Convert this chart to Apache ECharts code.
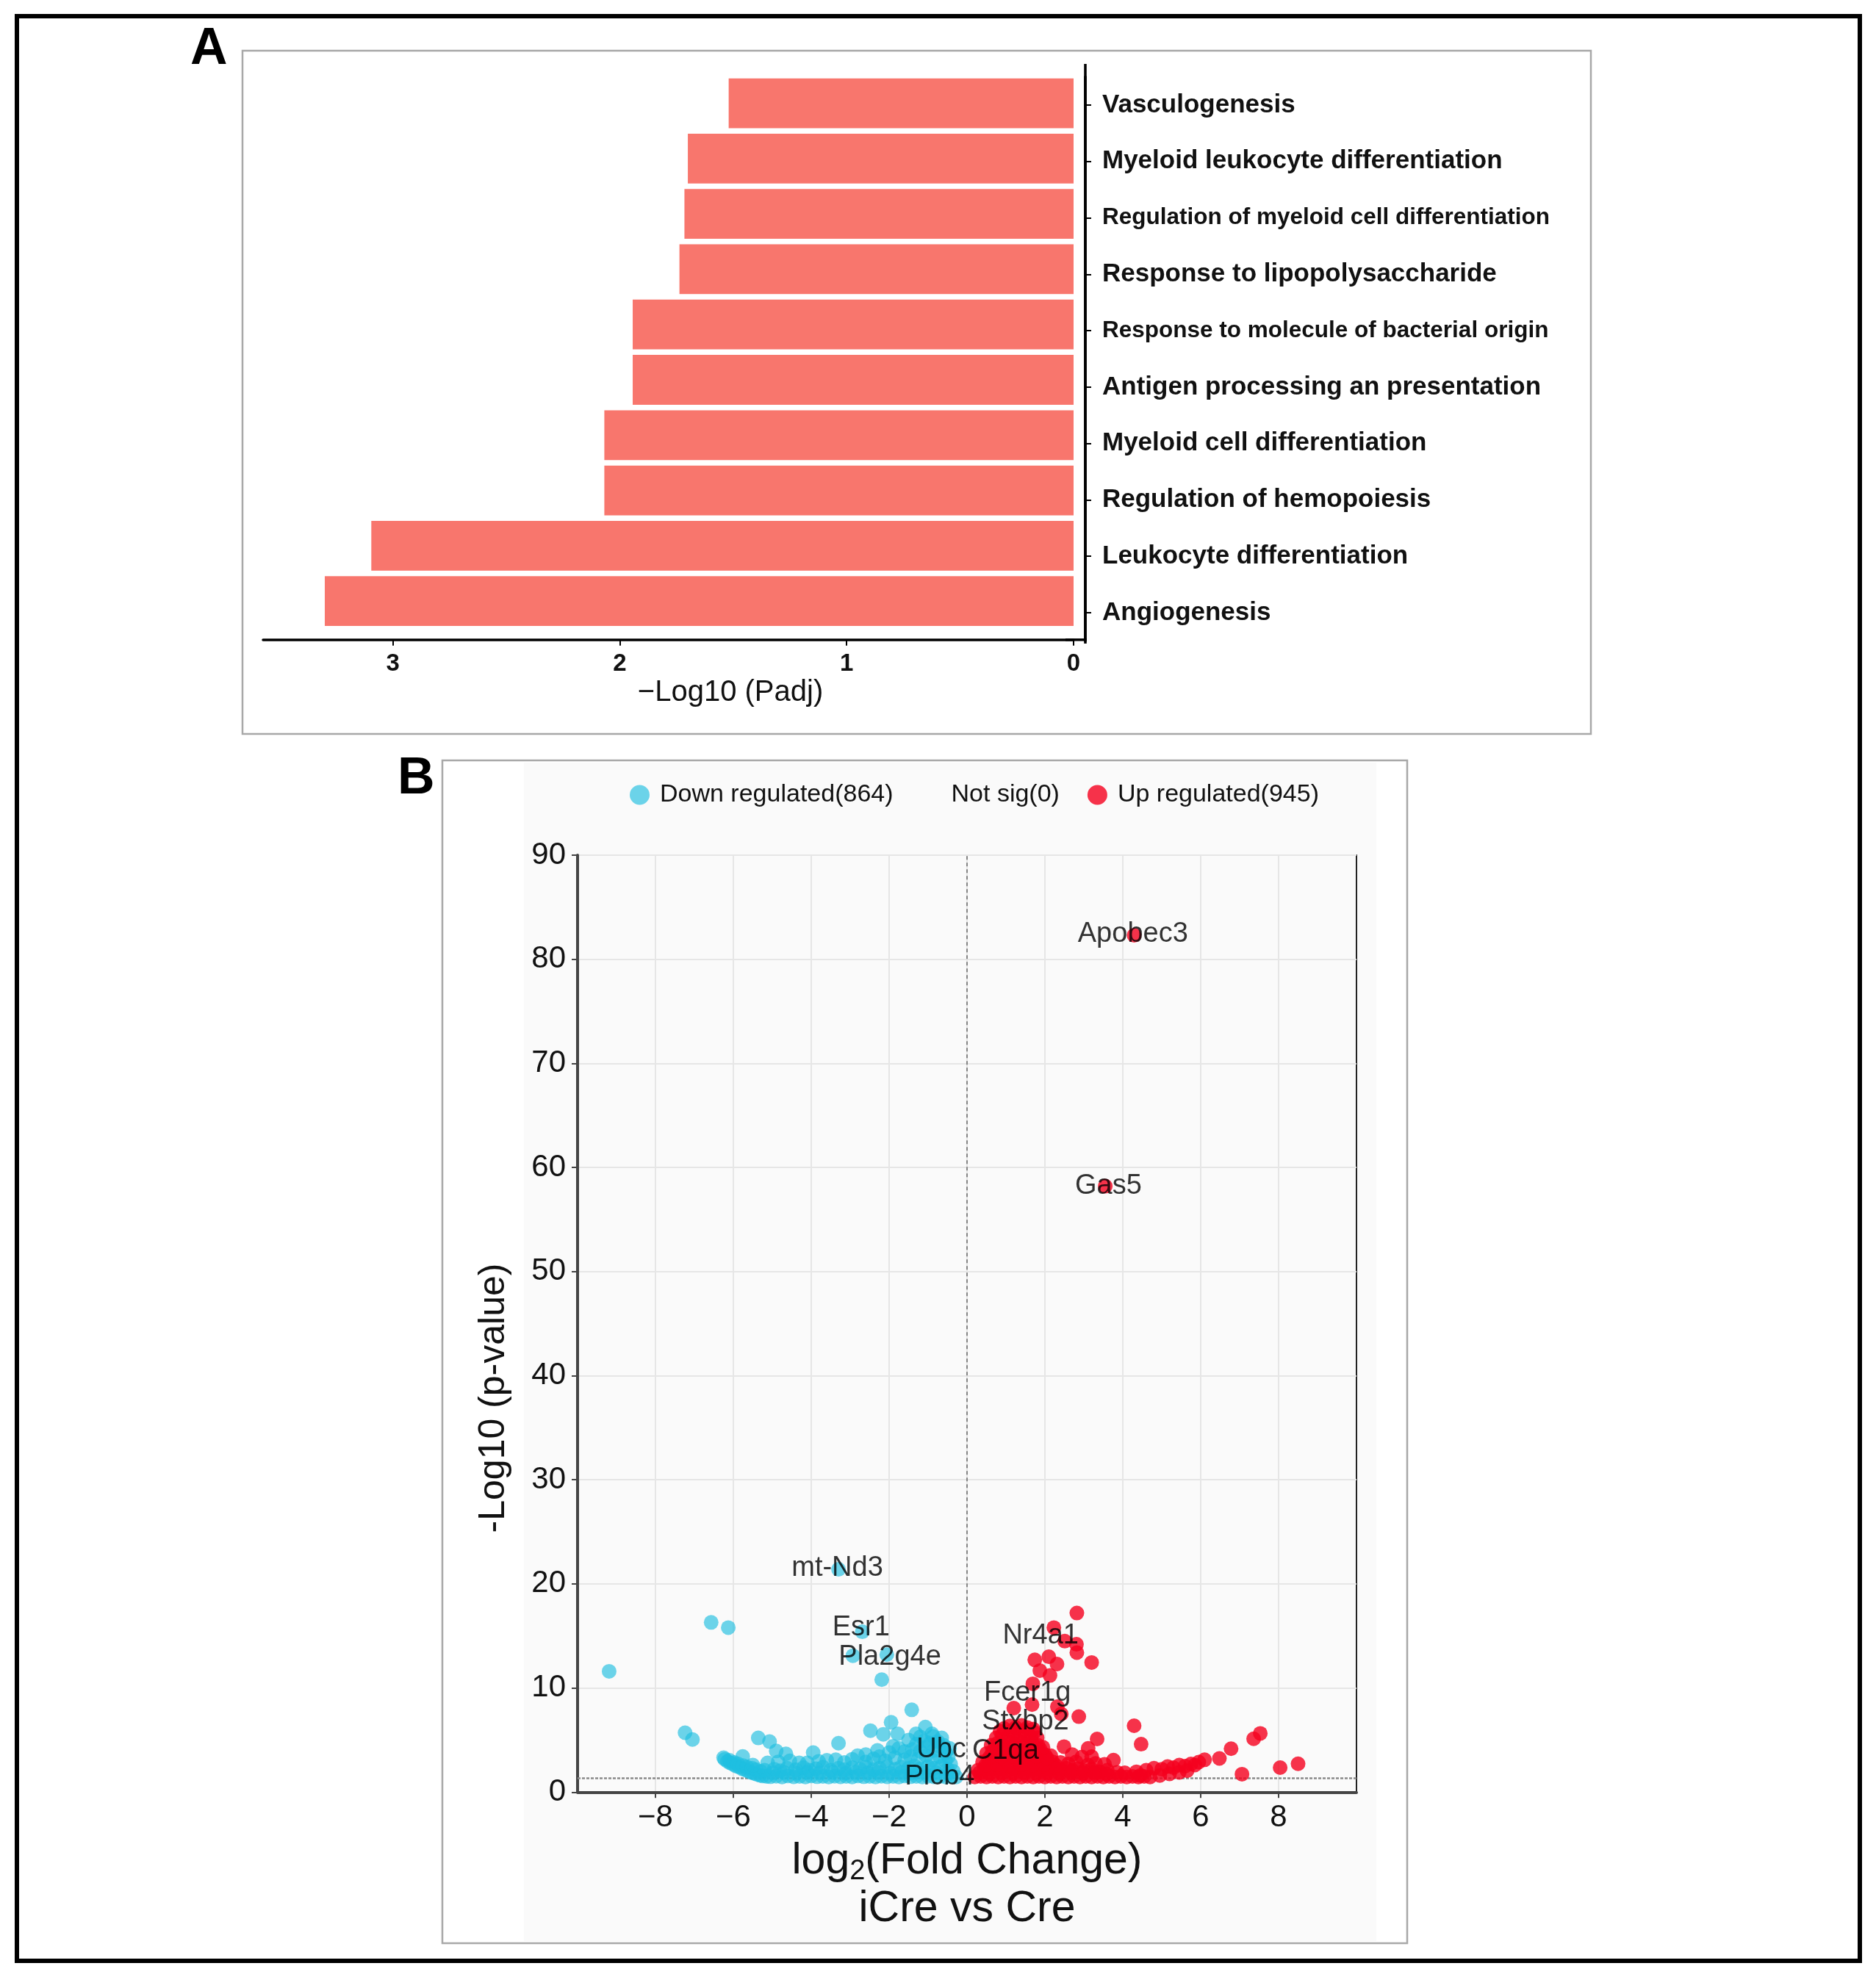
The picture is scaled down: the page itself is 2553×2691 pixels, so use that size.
<!DOCTYPE html>
<html>
<head>
<meta charset="utf-8">
<script src="https://cdn.jsdelivr.net/npm/echarts@6/dist/echarts.min.js"></script>
<style>
html,body{margin:0;padding:0;background:#fff;}
#chart{width:2553px;height:2691px;}
</style>
</head>
<body>
<div id="chart"></div>
<script>
// ---------- Panel A data ----------
const termNames = [
  'Vasculogenesis',
  'Myeloid leukocyte differentiation',
  'Regulation of myeloid cell differentiation',
  'Response to lipopolysaccharide',
  'Response to molecule of bacterial origin',
  'Antigen processing an presentation',
  'Myeloid cell differentiation',
  'Regulation of hemopoiesis',
  'Leukocyte differentiation',
  'Angiogenesis'
];
const termValues = [1.52, 1.70, 1.715, 1.737, 1.943, 1.943, 2.068, 2.068, 3.095, 3.30];
const smallTerms = ['Regulation of myeloid cell differentiation', 'Response to molecule of bacterial origin'];
const padjTicks = [0, 1, 2, 3];

// ---------- Panel B data ----------
const legendNames = ['Down regulated(864)', 'Not sig(0)', 'Up regulated(945)'];
const fcTicks = [-8, -6, -4, -2, 0, 2, 4, 6, 8];
const pThreshold = 1.31;

const downPoints = [
  [-9.19,11.6],[-6.57,16.3],[-6.13,15.8],[-7.24,5.7],[-7.05,5.05],[-3.30,21.4],[-2.69,15.4],[-2.93,13.1],
  [-2.06,13.2],[-2.19,10.8],[-1.42,7.9],[-1.95,6.7],[-2.48,5.9],[-2.15,5.55],[-1.78,5.6],[-1.07,6.25],
  [-1.31,5.6],[-0.87,5.35],[-1.9,4.4],[-1.75,4.2],[-3.30,4.7],[-5.36,5.2],[-5.07,4.85],[-4.9,3.95],
  [-4.65,3.67],[-3.95,3.8],[-5.76,3.43],[-6.25,3.3],[-2.81,3.5],[-2.25,3.4],[-3.37,3.1],[-4.31,2.8],
  [-5.12,2.8],[-3.81,2.95],
  [-6.22,3.15],[-6.15,2.95],[-6.08,2.8],[-6.0,2.65],[-5.93,2.5],[-5.85,2.4],[-5.78,2.25],[-5.7,2.15],
  [-5.62,2.0],[-5.55,1.9],[-5.47,1.8],[-5.4,1.7],[-5.32,1.62],[-5.25,1.55],[-5.15,1.5],
  [-6.1,3.05],[-5.98,2.85],[-5.88,2.7],[-5.75,2.55],[-5.65,2.4],[-5.52,2.3],[-5.42,2.15],[-5.3,2.0],
  [-5.05,1.48],[-4.9,1.52],[-4.75,1.45],[-4.6,1.55],[-4.45,1.47],[-4.3,1.5],[-4.15,1.45],[-4.0,1.55],
  [-3.85,1.48],[-3.7,1.5],[-3.55,1.45],[-3.4,1.52],[-3.25,1.47],[-3.1,1.5],[-2.95,1.45],[-2.8,1.55],
  [-2.65,1.48],[-2.5,1.5],[-2.35,1.45],[-2.2,1.52],[-2.05,1.47],[-1.9,1.5],[-1.75,1.45],[-1.6,1.55],
  [-1.45,1.48],[-1.3,1.5],[-1.15,1.45],[-1.0,1.52],[-0.85,1.47],[-0.7,1.5],[-0.55,1.45],[-0.4,1.5],
  [-0.28,1.45],
  [-4.98,1.85],[-4.7,1.9],[-4.38,1.8],[-4.1,1.9],[-3.78,1.85],[-3.45,1.9],[-3.12,1.8],[-2.85,1.9],
  [-2.55,1.85],[-2.28,1.9],[-1.98,1.8],[-1.68,1.9],[-1.4,1.85],[-1.1,1.9],[-0.8,1.85],[-0.5,1.8],
  [-5.2,2.1],[-4.95,2.2],[-4.8,2.05],[-4.62,2.3],[-4.4,2.15],[-4.2,2.35],[-4.05,2.1],[-3.88,2.25],
  [-3.7,2.4],[-3.5,2.1],[-3.3,2.3],[-3.15,2.15],[-2.95,2.35],[-2.75,2.2],[-2.6,2.4],[-2.4,2.15],
  [-2.25,2.3],[-2.05,2.45],[-1.85,2.2],[-1.7,2.4],[-1.5,2.3],[-1.35,2.5],[-1.2,2.25],[-1.0,2.45],
  [-0.85,2.3],[-0.65,2.5],[-0.5,2.2],[-0.35,2.0],
  [-5.5,2.6],[-4.85,2.9],[-4.55,3.0],[-4.1,2.8],[-3.6,3.05],[-3.15,2.85],[-2.95,3.15],[-2.6,2.9],
  [-2.4,3.2],[-2.1,3.0],[-1.85,3.3],[-1.6,3.1],[-1.45,3.4],[-1.25,3.2],[-1.05,3.5],[-0.9,3.1],
  [-0.7,3.4],[-0.55,3.0],[-0.42,2.7],
  [-1.6,3.9],[-1.4,4.1],[-1.2,3.9],[-1.05,4.3],[-0.85,4.0],[-0.7,4.4],[-0.55,3.8],[-1.3,4.6],
  [-1.1,4.9],[-0.95,4.7],[-0.75,4.85],[-0.6,4.5],[-0.48,3.4],[-1.5,5.0],[-0.9,5.6],[-0.65,5.2],
  [-1.2,5.3],[-0.45,4.2],[-2.0,3.8],[-2.3,4.0],[-2.6,3.6]
];

const upPoints = [
  [4.29,82.3],[3.55,58.2],[2.82,17.2],[2.23,15.8],[2.51,14.5],[2.81,14.2],[2.82,13.4],[3.2,12.45],
  [1.74,12.7],[2.1,13.0],[2.31,12.3],[1.87,11.67],[2.13,11.2],[1.69,10.4],
  [1.2,8.07],[1.67,8.4],[2.32,8.2],[2.42,7.5],[2.87,7.25],[4.29,6.37],[4.47,4.6],[3.34,5.1],
  [3.11,4.2],[2.49,4.37],[2.95,3.37],[3.76,3.07],[3.53,2.67],[7.53,5.64],[7.36,5.12],[6.78,4.17],
  [6.48,3.23],[6.1,3.1],[5.95,2.88],[8.04,2.35],[8.5,2.72],[7.06,1.72],
  [0.2,1.45],[0.35,1.5],[0.5,1.45],[0.65,1.5],[0.8,1.45],[0.95,1.5],[1.1,1.45],[1.25,1.5],
  [1.4,1.45],[1.55,1.5],[1.7,1.45],[1.85,1.5],[2.0,1.45],[2.15,1.5],[2.3,1.45],[2.45,1.5],
  [2.6,1.45],[2.75,1.5],[2.9,1.45],[3.05,1.5],[3.2,1.45],[3.35,1.5],[3.5,1.45],[3.65,1.5],
  [3.8,1.45],[3.95,1.5],[4.1,1.45],[4.25,1.5],[4.4,1.45],[4.55,1.5],[4.7,1.45],
  [0.28,2.1],[0.45,2.3],[0.6,2.2],[0.75,2.35],[0.9,2.2],[1.05,2.4],[1.2,2.25],[1.35,2.4],
  [1.5,2.2],[1.65,2.35],[1.8,2.2],[1.95,2.4],[2.1,2.2],[2.25,2.35],[2.4,2.15],[2.55,2.3],
  [2.7,2.1],[2.85,2.25],[3.0,2.05],[3.2,2.2],[3.4,1.95],[3.6,2.1],[3.85,1.9],[4.05,1.85],
  [4.35,1.95],[4.6,2.1],[4.8,2.3],[5.0,2.2],[5.15,2.45],[5.3,2.35],[5.45,2.6],[5.6,2.5],
  [5.75,2.7],[5.85,2.6],[4.95,1.6],[5.2,1.75],[5.45,1.9],[5.65,2.05],[4.45,1.6],
  [0.4,2.9],[0.55,3.1],[0.7,3.0],[0.85,3.2],[1.0,3.0],[1.15,3.25],[1.3,3.05],[1.45,3.2],
  [1.6,3.0],[1.75,3.15],[1.9,2.95],[2.05,3.1],[2.2,2.9],[2.4,2.85],[2.6,2.7],[2.8,2.9],
  [3.1,2.6],[3.3,2.75],
  [0.32,1.85],[0.58,1.8],[0.88,1.85],[1.18,1.8],[1.48,1.85],[1.78,1.8],[2.08,1.85],[2.38,1.8],
  [2.68,1.85],[2.98,1.8],[3.28,1.85],[3.58,1.75],
  [0.48,2.6],[0.78,2.65],[1.08,2.6],[1.38,2.65],[1.68,2.6],[1.98,2.65],[2.28,2.55],
  [0.5,3.7],[0.65,3.9],[0.8,3.75],[0.95,4.0],[1.1,3.8],[1.25,4.0],[1.4,3.8],[1.55,4.0],
  [1.7,3.75],[1.85,3.95],[2.0,3.6],[2.15,3.5],[2.7,3.6],[3.2,3.4],
  [0.58,3.35],[0.88,3.4],[1.18,3.45],[1.48,3.4],[1.78,3.45],[2.05,3.3],
  [0.62,4.5],[0.78,4.7],[0.92,4.55],[1.07,4.8],[1.22,4.6],[1.37,4.8],[1.52,4.6],[1.67,4.75],
  [1.82,4.5],[1.95,4.3],
  [0.7,4.15],[1.0,4.25],[1.3,4.2],[1.6,4.25],[1.88,4.1],
  [0.75,5.2],[0.9,5.45],[1.05,5.3],[1.2,5.55],[1.35,5.35],[1.5,5.5],[1.65,5.3],[1.8,5.2],
  [0.85,5.85],[1.15,5.9],[1.45,5.9],[1.72,5.75],
  [0.95,6.1],[1.1,6.35],[1.25,6.2],[1.4,6.4],[1.55,6.2],[1.7,6.05]
];

const labelGenes = ['Apobec3','Gas5','mt-Nd3','Esr1','Pla2g4e','Nr4a1','Fcer1g','Stxbp2','Ubc','C1qa','Plcb4'];
const labelX = [4.26, 3.63, -3.33, -2.72, -1.98, 1.89, 1.55, 1.50, -0.66, 0.99, -0.70];
const labelY = [82.4, 58.2, 21.5, 15.8, 13.0, 15.0, 9.5, 6.75, 4.05, 3.95, 1.48];

// ---------- chart ----------
const FONT = "'Liberation Sans', Arial, Helvetica, sans-serif";
const chart = echarts.init(document.getElementById('chart'), null, {renderer: 'canvas'});

const option = {
  animation: false,
  backgroundColor: '#ffffff',
  textStyle: {fontFamily: FONT},
  graphic: {
    elements: [
      {type: 'rect', z: -10, shape: {x: 713, y: 1038, width: 1160, height: 1604}, style: {fill: '#fafafa'}},
      {type: 'rect', z: 50, shape: {x: 23, y: 22, width: 2508, height: 2647}, style: {fill: null, stroke: '#000', lineWidth: 6}},
      {type: 'rect', z: 50, shape: {x: 330, y: 69, width: 1835, height: 930}, style: {fill: null, stroke: '#a8a8a8', lineWidth: 2.5}},
      {type: 'rect', z: 50, shape: {x: 602, y: 1035, width: 1313, height: 1610}, style: {fill: null, stroke: '#a8a8a8', lineWidth: 2.5}},
      {type: 'line', z: 50, shape: {x1: 1477, y1: 87, x2: 1477, y2: 876}, style: {stroke: '#000', lineWidth: 3.5}},
      {type: 'line', z: 50, shape: {x1: 1450, y1: 870.8, x2: 1479, y2: 870.8}, style: {stroke: '#000', lineWidth: 3.5}},
      {type: 'text', z: 50, x: 259, y: 68, style: {text: 'A', font: 'bold 70px ' + FONT, fill: '#000', align: 'left', verticalAlign: 'middle'}},
      {type: 'text', z: 50, x: 541, y: 1061, style: {text: 'B', font: 'bold 70px ' + FONT, fill: '#000', align: 'left', verticalAlign: 'middle'}},
      {type: 'text', z: 50, x: 994, y: 943, style: {text: '\u2212Log10 (Padj)', font: '40px ' + FONT, fill: '#111', align: 'center', verticalAlign: 'middle'}},
      {type: 'text', z: 50, x: 672, y: 1903, rotation: Math.PI / 2, style: {text: '-Log10 (p-value)', font: '50px ' + FONT, fill: '#111', align: 'center', verticalAlign: 'middle'}}
    ]
  },
  legend: {
    data: legendNames,
    left: 852,
    top: 1060,
    orient: 'horizontal',
    icon: 'circle',
    itemWidth: 27,
    itemHeight: 27,
    itemGap: 38,
    selectedMode: false,
    textStyle: {fontSize: 34, color: '#111', fontFamily: FONT, padding: [0, 0, 0, 9]}
  },
  grid: [
    {left: 358, top: 102.9, width: 1103, height: 752.9, containLabel: false},
    {left: 786, top: 1164, width: 1060, height: 1275.3, containLabel: false, show: true, borderColor: '#222', borderWidth: 2, backgroundColor: 'transparent'},
    {left: 358, top: 104.6, width: 1103, height: 767.8, containLabel: false}
  ],
  xAxis: [
    {
      type: 'value', gridIndex: 0, min: 0, max: 3.572, interval: 1, inverse: true, offset: 15,
      axisLine: {show: true, onZero: false, lineStyle: {color: '#000', width: 3.5}},
      axisTick: {show: true, length: 8, customValues: padjTicks, lineStyle: {color: '#000', width: 2}},
      axisLabel: {show: true, customValues: padjTicks, margin: 17, fontSize: 33, fontWeight: 'bold', color: '#111', fontFamily: FONT},
      splitLine: {show: false}
    },
    {
      type: 'value', gridIndex: 1, min: -10, max: 10, interval: 2,
      axisLine: {show: true, onZero: false, lineStyle: {color: '#444', width: 4}},
      axisTick: {show: true, length: 8, customValues: fcTicks, lineStyle: {color: '#444', width: 2}},
      axisLabel: {show: true, customValues: fcTicks, margin: 14, fontSize: 42, color: '#111', fontFamily: FONT,
        formatter: v => String(v).replace('-', '\u2212')},
      splitLine: {show: true, lineStyle: {color: '#e6e6e6', width: 2}},
      name: '{a|log}{s|2}{a|(Fold Change)}\n{a|iCre vs Cre}',
      nameLocation: 'middle',
      nameGap: 62,
      nameTextStyle: {
        color: '#111', fontFamily: FONT,
        rich: {
          a: {fontSize: 59, lineHeight: 65, color: '#111', fontFamily: FONT},
          s: {fontSize: 38, lineHeight: 20, verticalAlign: 'bottom', color: '#111', fontFamily: FONT}
        }
      }
    },
    {
      type: 'value', gridIndex: 2, min: 0, max: 3.572, inverse: true, show: false
    }
  ],
  yAxis: [
    {
      type: 'category', gridIndex: 0, data: termNames, inverse: true, position: 'right', show: false
    },
    {
      type: 'value', gridIndex: 1, min: 0, max: 90, interval: 10,
      axisLine: {show: true, onZero: false, lineStyle: {color: '#444', width: 4}},
      axisTick: {show: true, length: 8, lineStyle: {color: '#444', width: 2}},
      axisLabel: {show: true, margin: 16, fontSize: 42, color: '#111', fontFamily: FONT},
      splitLine: {show: true, lineStyle: {color: '#e6e6e6', width: 2}}
    },
    {
      type: 'category', gridIndex: 2, data: termNames, inverse: true, position: 'right', offset: 16,
      axisLine: {show: true, onZero: false, lineStyle: {color: '#000', width: 3.5}},
      axisTick: {show: true, alignWithLabel: true, length: 8, lineStyle: {color: '#000', width: 2}},
      axisLabel: {
        show: true, margin: 23, color: '#111', fontFamily: FONT, align: 'left',
        formatter: v => (smallTerms.indexOf(v) >= 0 ? '{s|' + v + '}' : '{b|' + v + '}'),
        rich: {
          b: {fontSize: 35, fontWeight: 'bold', color: '#111', fontFamily: FONT},
          s: {fontSize: 31.5, fontWeight: 'bold', color: '#111', fontFamily: FONT}
        }
      },
      splitLine: {show: false}
    }
  ],
  series: [
    {
      type: 'bar', name: 'terms', xAxisIndex: 0, yAxisIndex: 0,
      data: termValues, barCategoryGap: '10%',
      itemStyle: {color: '#F8766D'}, silent: true
    },
    {
      type: 'scatter', name: 'thresholds', xAxisIndex: 1, yAxisIndex: 1, data: [], z: 1, silent: true,
      markLine: {
        z: 1, silent: true, symbol: ['none', 'none'], animation: false,
        label: {show: false},
        emphasis: {disabled: true},
        data: [
          {xAxis: 0, lineStyle: {type: [5, 4], color: '#666', width: 1.5}},
          {yAxis: pThreshold, lineStyle: {type: [4, 2], color: '#8a8a8a', width: 2.5}}
        ]
      }
    },
    {
      type: 'scatter', name: legendNames[0], xAxisIndex: 1, yAxisIndex: 1, z: 2,
      data: downPoints, symbolSize: 20,
      itemStyle: {color: '#1ebee1', opacity: 0.65}, silent: true
    },
    {
      type: 'scatter', name: legendNames[1], xAxisIndex: 1, yAxisIndex: 1, z: 2,
      data: [], symbolSize: 20, itemStyle: {color: 'rgba(0,0,0,0)'}, silent: true
    },
    {
      type: 'scatter', name: legendNames[2], xAxisIndex: 1, yAxisIndex: 1, z: 3,
      data: upPoints, symbolSize: 20,
      itemStyle: {color: '#f5001e', opacity: 0.8}, silent: true
    },
    {
      type: 'scatter', name: 'gene labels', xAxisIndex: 1, yAxisIndex: 1, z: 10, silent: true,
      symbolSize: 1,
      itemStyle: {color: 'rgba(0,0,0,0)'},
      data: labelGenes.map((g, i) => ({name: g, value: [labelX[i], labelY[i]]})),
      label: {show: true, position: 'inside', formatter: '{b}', fontSize: 38, color: '#000', fontFamily: FONT}
    }
  ]
};
chart.setOption(option);
</script>
</body>
</html>
